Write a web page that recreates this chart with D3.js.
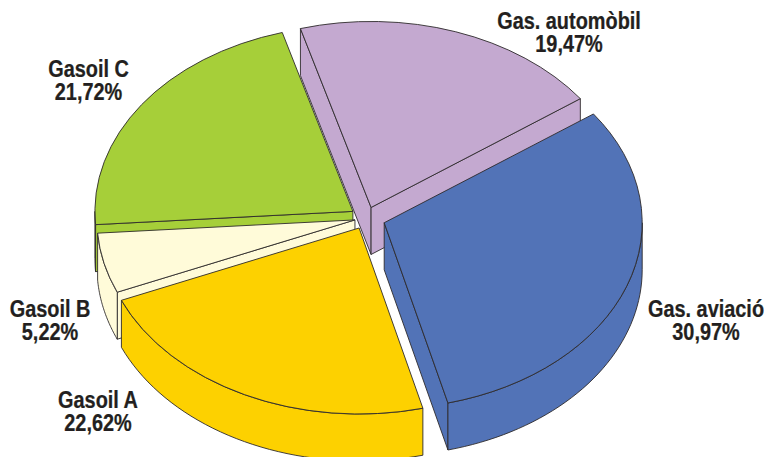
<!DOCTYPE html>
<html>
<head>
<meta charset="utf-8">
<script src="https://cdn.jsdelivr.net/npm/d3@7"></script>
<style>
  html, body { margin: 0; padding: 0; background: #fff; }
  svg { display: block; }
  text { font-family: "Liberation Sans", sans-serif; font-weight: bold; font-size: 23px; fill: #231f20; text-anchor: middle; stroke: #231f20; stroke-width: 0.25; }
  path { stroke: #2e2a2b; stroke-width: 0.9; stroke-linejoin: round; vector-effect: non-scaling-stroke; }
</style>
</head>
<body>
<script>
// values, clockwise from the blue slice
const categories = ['Gas. aviació', 'Gasoil A', 'Gasoil B', 'Gasoil C', 'Gas. automòbil'];
const values = [30.97, 22.62, 5.22, 21.72, 19.47];
const colors = ['#5273b7', '#fdd100', '#fffbd9', '#a6cf39', '#c4a9d0'];

const width = 768, height = 457;
const cx = 366, cy = 218;
const rx = 258, ry = 186;
const depth = 47;
const startAngle = 54.2 * Math.PI / 180;

// how far each slice is pulled out, and label centres
const explode = [0.075, 0.06, 0.044, 0.062, 0.06];
const labelPos = [[706, 317], [98, 408], [50, 317], [88.5, 76.5], [569, 29]];
// back slices first, so the front ones cover them
const drawOrder = [3, 4, 2, 1, 0];

const svg = d3.select('body').append('svg').attr('width', width).attr('height', height);

const slices = d3.pie().sort(null).startAngle(startAngle).endAngle(startAngle + 2 * Math.PI)(values);

const arc = d3.arc().innerRadius(0).outerRadius(rx);
const line = d3.line();

function rimPoint(t, ox, oy, dy) {
  return [ox + rx * Math.sin(t), oy - ry * Math.cos(t) + dy];
}

// front wall for the part of the rim between a and b
function wall(a, b, ox, oy) {
  const ts = d3.range(0, 41).map(i => a + (b - a) * i / 40);
  const top = ts.map(t => rimPoint(t, ox, oy, 0));
  const bottom = ts.map(t => rimPoint(t, ox, oy, depth)).reverse();
  return line(top.concat(bottom)) + 'Z';
}

// flat cut face running from the tip to the rim
function cutFace(t, ox, oy) {
  return line([[ox, oy], rimPoint(t, ox, oy, 0), rimPoint(t, ox, oy, depth), [ox, oy + depth]]) + 'Z';
}

drawOrder.forEach(i => {
  const s = slices[i];
  const mid = (s.startAngle + s.endAngle) / 2;
  const ox = cx + explode[i] * rx * Math.sin(mid);
  const oy = cy - explode[i] * ry * Math.cos(mid);
  const g = svg.append('g').attr('fill', colors[i]);

  // only the faces turned towards the viewer
  if (Math.sin(s.startAngle) < 0) g.append('path').attr('d', cutFace(s.startAngle, ox, oy));
  if (Math.sin(s.endAngle) > 0) g.append('path').attr('d', cutFace(s.endAngle, ox, oy));

  const a = Math.max(s.startAngle, Math.PI / 2);
  const b = Math.min(s.endAngle, 3 * Math.PI / 2);
  if (a < b) g.append('path').attr('d', wall(a, b, ox, oy));

  g.append('path')
    .attr('d', arc(s))
    .attr('transform', `translate(${ox},${oy}) scale(1,${ry / rx})`);
});

// no condensed face is installed, so the labels are squeezed by hand
const labels = svg.selectAll('g.label').data(categories).enter().append('g').attr('class', 'label')
  .attr('transform', (d, i) => `translate(${labelPos[i][0]},${labelPos[i][1]}) scale(0.865,1)`);
labels.append('text').text(d => d);
labels.append('text').attr('y', 23.5).text((d, i) => values[i].toFixed(2).replace('.', ',') + '%');
</script>
</body>
</html>
